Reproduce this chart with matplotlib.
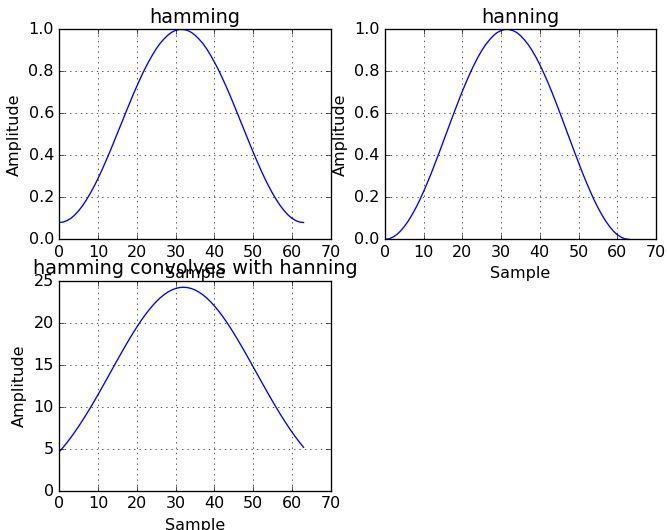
import matplotlib
matplotlib.use("Agg")
import matplotlib.pyplot as plt

plt.style.use("classic")
plt.rcParams["font.family"] = ["DejaVu Sans"]

samples = list(range(64))

hamming_half = [0.080, 0.082, 0.089, 0.100, 0.116, 0.136, 0.160, 0.188,
                0.219, 0.253, 0.290, 0.330, 0.372, 0.415, 0.460, 0.506,
                0.551, 0.597, 0.642, 0.687, 0.729, 0.770, 0.809, 0.844,
                0.877, 0.907, 0.933, 0.954, 0.972, 0.986, 0.995, 0.999]
hamming_vals = hamming_half + hamming_half[::-1]

hanning_half = [0.000, 0.002, 0.010, 0.022, 0.039, 0.061, 0.087, 0.117,
                0.151, 0.188, 0.229, 0.272, 0.317, 0.365, 0.413, 0.463,
                0.512, 0.562, 0.611, 0.659, 0.706, 0.750, 0.792, 0.831,
                0.867, 0.899, 0.927, 0.950, 0.970, 0.985, 0.994, 0.999]
hanning_vals = hanning_half + hanning_half[::-1]

conv_vals = [4.657, 5.197, 5.772, 6.383, 7.027, 7.703, 8.409, 9.143,
             9.902, 10.684, 11.483, 12.298, 13.123, 13.954, 14.786, 15.615,
             16.435, 17.240, 18.026, 18.788, 19.519, 20.214, 20.868, 21.477,
             22.036, 22.539, 22.984, 23.366, 23.683, 23.932, 24.111, 24.219,
             24.255,
             24.219, 24.111, 23.932, 23.683, 23.366, 22.984, 22.539, 22.036,
             21.477, 20.868, 20.214, 19.519, 18.788, 18.026, 17.240, 16.435,
             15.615, 14.786, 13.954, 13.123, 12.298, 11.483, 10.684, 9.902,
             9.143, 8.409, 7.703, 7.027, 6.383, 5.772, 5.197]

titles = ["hamming", "hanning", "hamming convolves with hanning"]
x_ticks = [0, 10, 20, 30, 40, 50, 60, 70]
win_yticks = [0.0, 0.2, 0.4, 0.6, 0.8, 1.0]
conv_yticks = [0, 5, 10, 15, 20, 25]

W, H = 667, 530
DPI = 96
fig = plt.figure(figsize=(W / DPI, H / DPI), dpi=DPI, facecolor="white")

def px_axes(left, top, right, bottom):
    return fig.add_axes([left / W, 1 - bottom / H, (right - left) / W, (bottom - top) / H])

ax1 = px_axes(59.3, 29.3, 330.7, 239.3)
ax2 = px_axes(385.0, 29.3, 656.0, 239.3)
ax3 = px_axes(59.3, 281.0, 330.7, 491.0)

for ax, vals, title, yt in [(ax1, hamming_vals, titles[0], win_yticks),
                            (ax2, hanning_vals, titles[1], win_yticks),
                            (ax3, conv_vals, titles[2], conv_yticks)]:
    ax.plot(samples, vals, color="b", linewidth=1.0)
    ax.set_xlim(0, 70)
    ax.set_ylim(yt[0], yt[-1])
    ax.set_xticks(x_ticks)
    ax.set_yticks(yt)
    if yt is win_yticks:
        ax.set_yticklabels([f"{v:.1f}" for v in yt])
    ax.grid(True, linestyle=":", color="k", linewidth=0.5)
    ax.set_title(title, fontsize=14.4)
    ax.set_ylabel("Amplitude", fontsize=12)
    ax.set_xlabel("Sample", fontsize=12)
    ax.tick_params(labelsize=12)

fig.savefig("out.png", dpi=DPI, facecolor="white")
